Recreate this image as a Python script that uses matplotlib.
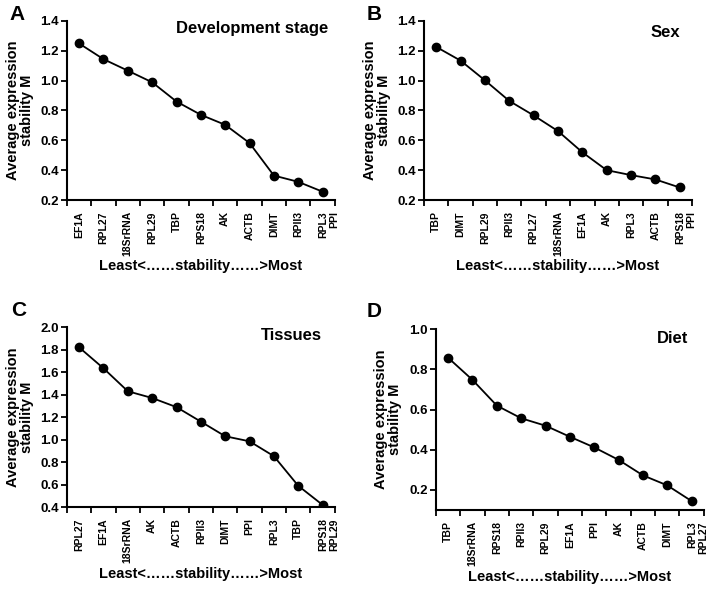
import matplotlib
matplotlib.use('Agg')
import matplotlib.pyplot as plt
import matplotlib.transforms as mtransforms
import numpy as np

plt.rcParams['font.family'] = ['Liberation Sans', 'DejaVu Sans']
plt.rcParams['font.weight'] = 'bold'

# A - development stage
genes_a = ['EF1A', 'RPL27', '18SrRNA', 'RPL29', 'TBP', 'RPS18', 'AK', 'ACTB',
           'DIMT', 'RPII3', 'RPL3\nPPI']
m_a = [1.249, 1.144, 1.067, 0.989, 0.860, 0.771, 0.704, 0.582, 0.364, 0.322, 0.256]

# B - sex
genes_b = ['TBP', 'DIMT', 'RPL29', 'RPII3', 'RPL27', '18SrRNA', 'EF1A', 'AK',
           'RPL3', 'ACTB', 'RPS18\nPPI']
m_b = [1.226, 1.134, 1.002, 0.864, 0.767, 0.662, 0.520, 0.400, 0.367, 0.338, 0.284]

# C - tissues
genes_c = ['RPL27', 'EF1A', '18SrRNA', 'AK', 'ACTB', 'RPII3', 'DIMT', 'PPI',
           'RPL3', 'TBP', 'RPS18\nRPL29']
m_c = [1.820, 1.634, 1.430, 1.370, 1.289, 1.160, 1.030, 0.985, 0.853, 0.590, 0.420]

# D - diet
genes_d = ['TBP', '18SrRNA', 'RPS18', 'RPII3', 'RPL29', 'EF1A', 'PPI', 'AK',
           'ACTB', 'DIMT', 'RPL3\nRPL27']
m_d = [0.858, 0.748, 0.620, 0.557, 0.520, 0.465, 0.412, 0.350, 0.273, 0.223, 0.145]

xlabel = 'Least<\u2026\u2026stability\u2026\u2026>Most'
ylabel = 'Average expression\nstability M'

panels = [
    # letter, title, genes, values, axes rect, ylim, yticks, title pos, letter pos
    ('A', 'Development stage', genes_a, m_a, [0.0938, 0.6604, 0.375, 0.304],
     (0.2, 1.4), np.arange(0.2, 1.41, 0.2), (0.974, 0.96), (0.024, 0.976)),
    ('B', 'Sex', genes_b, m_b, [0.594, 0.6604, 0.375, 0.304],
     (0.2, 1.4), np.arange(0.2, 1.41, 0.2), (0.955, 0.933), (0.524, 0.976)),
    ('C', 'Tissues', genes_c, m_c, [0.0938, 0.139, 0.375, 0.3056],
     (0.4, 2.0), np.arange(0.4, 2.01, 0.2), (0.951, 0.955), (0.026, 0.473)),
    ('D', 'Diet', genes_d, m_d, [0.6106, 0.134, 0.375, 0.307],
     (0.1, 1.0), np.arange(0.2, 1.01, 0.2), (0.944, 0.95), (0.524, 0.471)),
]

fig = plt.figure(figsize=(7.14, 5.89), dpi=100)

for letter, title, genes, vals, rect, ylim, yticks, tpos, lpos in panels:
    ax = fig.add_axes(rect)
    x = np.arange(len(genes))
    ax.plot(x, vals, color='black', lw=1.3, marker='o', markersize=6)

    ax.set_xlim(-0.5, len(genes) - 0.5)
    ax.set_ylim(*ylim)
    ax.set_yticks(yticks)
    ax.set_yticklabels(['%.1f' % v for v in yticks], fontsize=9.5, fontweight='bold')

    # labels at the points, tick marks between them
    ax.set_xticks(x)
    ax.set_xticklabels(genes, rotation=90, fontsize=7.5, fontweight='bold',
                       va='top', ha='center', multialignment='right')
    ax.set_xticks(np.arange(len(genes) + 1) - 0.5, minor=True)
    ax.tick_params(axis='x', which='major', length=0, pad=8)
    ax.tick_params(axis='x', which='minor', length=4, width=1.3, direction='out')
    ax.tick_params(axis='y', length=4, width=1.3, direction='out', pad=2)

    # two-line labels: put the first line on the point
    for lab in ax.get_xticklabels():
        if '\n' in lab.get_text():
            off = mtransforms.ScaledTranslation(4.5 / 72, 0, fig.dpi_scale_trans)
            lab.set_transform(lab.get_transform() + off)

    for side in ['top', 'right']:
        ax.spines[side].set_visible(False)
    for side in ['left', 'bottom']:
        ax.spines[side].set_linewidth(1.5)

    ax.set_ylabel(ylabel, fontsize=10.5, fontweight='bold', linespacing=1.0)
    ax.yaxis.set_label_coords(-0.125, 0.5)
    ax.set_xlabel(xlabel, fontsize=10.5, fontweight='bold')
    ax.xaxis.set_label_coords(0.5, -0.33)

    ax.text(tpos[0], tpos[1], title, transform=ax.transAxes, ha='right',
            va='center', fontsize=12, fontweight='bold')
    fig.text(lpos[0], lpos[1], letter, ha='center', va='center',
             fontsize=15, fontweight='bold')

fig.savefig('out.png', dpi=100)
